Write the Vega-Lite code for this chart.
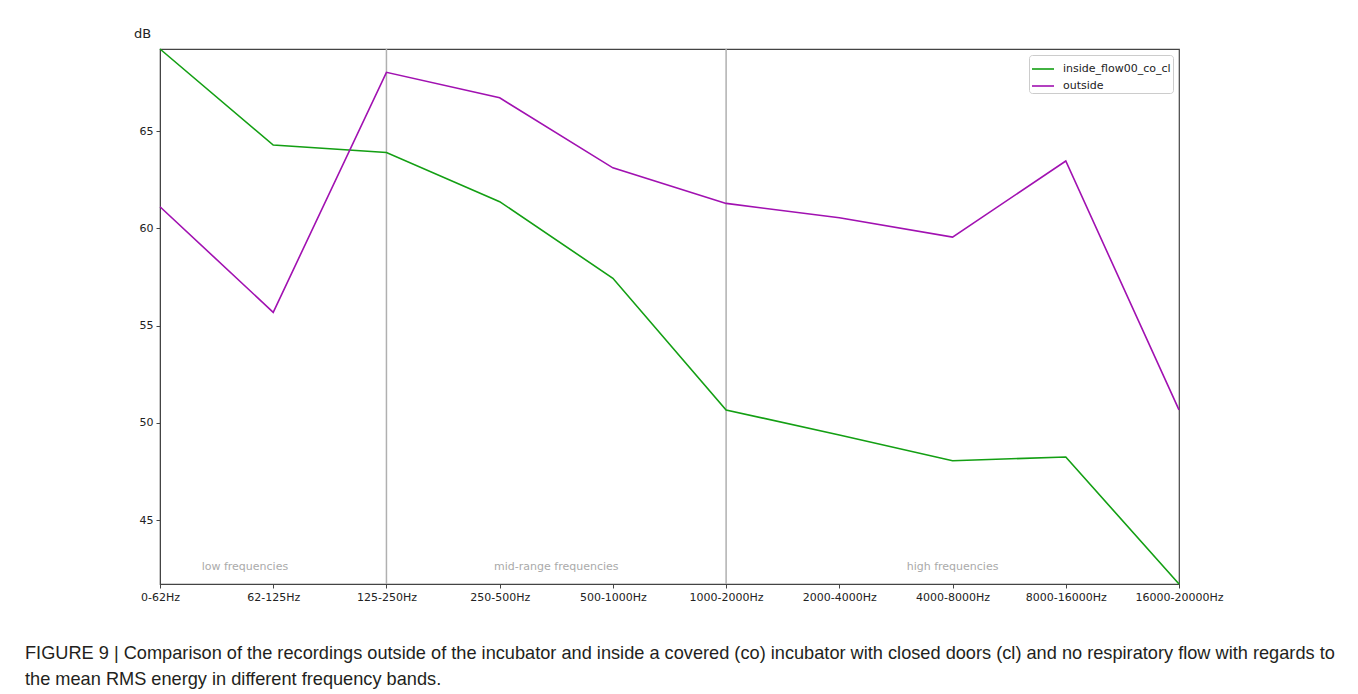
{
  "$schema": "https://vega.github.io/schema/vega-lite/v6.json",
  "width": 1019,
  "height": 535,
  "autosize": {"type": "none"},
  "padding": {"left": 160, "top": 49, "right": 179, "bottom": 110},
  "background": "white",
  "title": {
    "text": [
      "FIGURE 9 | Comparison of the recordings outside of the incubator and inside a covered (co) incubator with closed doors (cl) and no respiratory flow with regards to",
      "the mean RMS energy in different frequency bands."
    ],
    "orient": "bottom",
    "anchor": "start",
    "frame": "group",
    "dx": -135,
    "offset": 43,
    "font": "Liberation Sans",
    "fontSize": 18.2,
    "fontWeight": "normal",
    "color": "#231f20",
    "lineHeight": 26
  },
  "config": {
    "view": {"stroke": "#444444", "strokeWidth": 1.2},
    "axis": {
      "labelFont": "DejaVu Sans",
      "labelFontSize": 11,
      "labelColor": "#222222",
      "domainColor": "#444444",
      "tickColor": "#444444",
      "tickSize": 4,
      "labelPadding": 3,
      "grid": false
    }
  },
  "datasets": {
    "bands": [
      {"band": "0-62Hz", "i": 0, "series": "inside_flow00_co_cl", "dB": 69.22},
      {"band": "62-125Hz", "i": 1, "series": "inside_flow00_co_cl", "dB": 64.28},
      {"band": "125-250Hz", "i": 2, "series": "inside_flow00_co_cl", "dB": 63.9},
      {"band": "250-500Hz", "i": 3, "series": "inside_flow00_co_cl", "dB": 61.37},
      {"band": "500-1000Hz", "i": 4, "series": "inside_flow00_co_cl", "dB": 57.43},
      {"band": "1000-2000Hz", "i": 5, "series": "inside_flow00_co_cl", "dB": 50.66},
      {"band": "2000-4000Hz", "i": 6, "series": "inside_flow00_co_cl", "dB": 49.37},
      {"band": "4000-8000Hz", "i": 7, "series": "inside_flow00_co_cl", "dB": 48.05},
      {"band": "8000-16000Hz", "i": 8, "series": "inside_flow00_co_cl", "dB": 48.24},
      {"band": "16000-20000Hz", "i": 9, "series": "inside_flow00_co_cl", "dB": 41.71},
      {"band": "0-62Hz", "i": 0, "series": "outside", "dB": 61.11},
      {"band": "62-125Hz", "i": 1, "series": "outside", "dB": 55.68},
      {"band": "125-250Hz", "i": 2, "series": "outside", "dB": 68.02},
      {"band": "250-500Hz", "i": 3, "series": "outside", "dB": 66.71},
      {"band": "500-1000Hz", "i": 4, "series": "outside", "dB": 63.11},
      {"band": "1000-2000Hz", "i": 5, "series": "outside", "dB": 61.28},
      {"band": "2000-4000Hz", "i": 6, "series": "outside", "dB": 60.54},
      {"band": "4000-8000Hz", "i": 7, "series": "outside", "dB": 59.55},
      {"band": "8000-16000Hz", "i": 8, "series": "outside", "dB": 63.46},
      {"band": "16000-20000Hz", "i": 9, "series": "outside", "dB": 50.66}
    ],
    "dividers": [{"i": 2}, {"i": 5}],
    "regions": [
      {"i": 0.75, "dB": 42.57, "label": "low frequencies"},
      {"i": 3.5, "dB": 42.57, "label": "mid-range frequencies"},
      {"i": 7, "dB": 42.57, "label": "high frequencies"}
    ]
  },
  "layer": [
    {
      "data": {"name": "dividers"},
      "mark": {"type": "rule", "color": "#b0b0b0", "strokeWidth": 1.5},
      "encoding": {
        "x": {"field": "i", "type": "quantitative"}
      }
    },
    {
      "data": {"name": "regions"},
      "mark": {"type": "text", "font": "DejaVu Sans", "fontSize": 11, "color": "#aaaaaa", "align": "center", "baseline": "middle"},
      "encoding": {
        "x": {"field": "i", "type": "quantitative"},
        "y": {"field": "dB", "type": "quantitative"},
        "text": {"field": "label"}
      }
    },
    {
      "data": {"name": "bands"},
      "mark": {"type": "line", "strokeWidth": 1.6},
      "encoding": {
        "x": {
          "field": "i",
          "type": "quantitative",
          "scale": {"domain": [0, 9], "nice": false, "zero": false},
          "axis": {
            "title": null,
            "values": [0, 1, 2, 3, 4, 5, 6, 7, 8, 9],
            "labelExpr": "['0-62Hz','62-125Hz','125-250Hz','250-500Hz','500-1000Hz','1000-2000Hz','2000-4000Hz','4000-8000Hz','8000-16000Hz','16000-20000Hz'][datum.value]",
            "labelFlush": false,
            "labelOverlap": false
          }
        },
        "y": {
          "field": "dB",
          "type": "quantitative",
          "scale": {"domain": [41.71, 69.22], "nice": false, "zero": false},
          "axis": {
            "title": "dB",
            "titleAngle": 0,
            "titleX": -18,
            "titleY": -16,
            "titleAlign": "center",
            "titleBaseline": "middle",
            "titleFont": "DejaVu Sans",
            "titleFontSize": 13,
            "titleFontWeight": "normal",
            "titleColor": "#222222",
            "values": [45, 50, 55, 60, 65],
            "labelFlush": false
          }
        },
        "color": {
          "field": "series",
          "type": "nominal",
          "scale": {"domain": ["inside_flow00_co_cl", "outside"], "range": ["#139f13", "#a111b1"]},
          "legend": {
            "title": null,
            "orient": "top-right",
            "offset": 6,
            "padding": 2,
            "symbolType": "stroke",
            "symbolSize": 484,
            "symbolStrokeWidth": 1.6,
            "labelFont": "DejaVu Sans",
            "labelFontSize": 11,
            "labelColor": "#222222",
            "labelOffset": 8,
            "rowPadding": -5,
            "fillColor": "white",
            "strokeColor": "#cccccc",
            "cornerRadius": 3
          }
        }
      }
    }
  ]
}
